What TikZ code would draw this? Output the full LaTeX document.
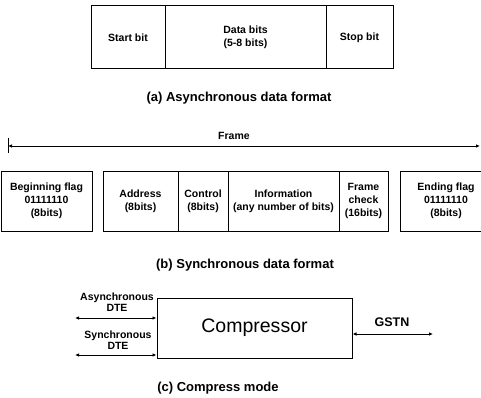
\documentclass[tikz,border=0pt]{standalone}
\usepackage{fontspec}
\setmainfont{Liberation Sans}
\usepackage{tikz}
\usetikzlibrary{positioning, arrows.meta}

\begin{document}
\begin{tikzpicture}[x=1pt, y=-1pt, node distance=0pt,
  cell/.style={draw, line width=1pt, outer sep=0pt, inner sep=0pt, align=center,
    font=\bfseries\fontsize{10.5}{13}\selectfont},
  lbl/.style={align=center, inner sep=0pt, font=\bfseries\fontsize{10.5}{11.5}\selectfont},
  caption/.style={inner sep=0pt, font=\bfseries\fontsize{13}{15}\selectfont},
  arr/.style={{Latex[length=4pt,width=3.5pt]}-{Latex[length=4pt,width=3.5pt]}, line width=0.9pt}]
\useasboundingbox (0,0) rectangle (481,398);
% (a)
\node[cell, minimum width=74, minimum height=63, anchor=north west] (start) at (91,6) {Start bit};
\node[cell, minimum width=161, minimum height=63, right=of start] (data) {Data bits\\ (5-8 bits)};
\node[cell, minimum width=67, minimum height=63, right=of data] (stop) {Stop bit};
\node[caption] (capa) at (239,98) {(a) Asynchronous data format};
% (b)
\coordinate (fl) at (8,146);
\coordinate (fr) at (480,146);
\draw[arr] (fl) -- (fr);
\draw[line width=0.9pt] ([yshift=8]fl) -- ([yshift=-7]fl);
\node[lbl] (frame) at (234,136) {Frame};
\node[cell, minimum width=91, minimum height=60, anchor=north west] (begin) at (1,171) {Beginning flag\\ 01111110\\ (8bits)};
\node[cell, minimum width=75, minimum height=60, anchor=north west] (addr) at (103,171) {Address\\ (8bits)};
\node[cell, minimum width=50, minimum height=60, right=of addr] (ctrl) {Control\\ (8bits)};
\node[cell, minimum width=111, minimum height=60, right=of ctrl] (info) {Information\\ (any number of bits)};
\node[cell, minimum width=49, minimum height=60, right=of info] (fcs) {Frame\\ check\\ (16bits)};
\node[cell, minimum width=92, minimum height=60, anchor=north west] (end) at (400,171) {Ending flag\\ 01111110\\ (8bits)};
\node[caption] (capb) at (245,265) {(b) Synchronous data format};
% (c)
\node[draw, line width=1pt, minimum width=195, minimum height=60, inner sep=0pt,
  font=\fontsize{19.5}{22}\selectfont] (comp) at (254.5,328) {Compressor};
\coordinate (adte) at (75,318);
\coordinate (sdte) at (75,355);
\coordinate (gstn) at (433,334);
\draw[arr] (adte) -- (comp.west |- adte);
\draw[arr] (sdte) -- (comp.west |- sdte);
\draw[arr] (comp.east |- gstn) -- (gstn);
\node[lbl] (alab) at (117,302) {Asynchronous\\ DTE};
\node[lbl] (slab) at (118,340) {Synchronous\\ DTE};
\node[lbl, font=\bfseries\fontsize{12.5}{14}\selectfont] (glab) at (392,322) {GSTN};
\node[caption] (capc) at (218,388) {(c) Compress mode};
\end{tikzpicture}
\end{document}
